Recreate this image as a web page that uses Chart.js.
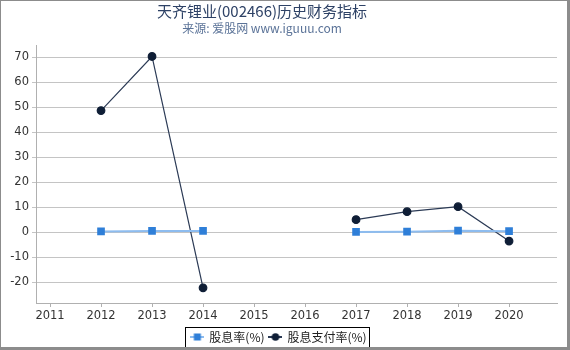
<!DOCTYPE html>
<html>
<head>
<meta charset="utf-8">
<script src="https://cdn.jsdelivr.net/npm/chart.js@4.4.1/dist/chart.umd.min.js"></script>
<style>
body { margin: 0; background: #fff; }
#wrap {
    width: 570px; height: 350px; box-sizing: border-box; overflow: hidden;
    border-left: 1px solid #8c8c8c; border-top: 1px solid #8c8c8c;
    border-right: 3px solid #8c8c8c; border-bottom: 3px solid #8c8c8c;
}
canvas { display: block; }
</style>
</head>
<body>
<div id="wrap"><canvas id="grafik" width="566" height="352"></canvas></div>
<script>
const years = [2012, 2013, 2014, 2015, 2016, 2017, 2018, 2019, 2020];
const dividendYield = [0.3, 0.5, 0.5, null, null, 0.1, 0.2, 0.6, 0.4];
const payoutRatio = [48.7, 70.4, -22.3, null, null, 5.0, 8.2, 10.2, -3.6];
const xTicks = [2011, 2012, 2013, 2014, 2015, 2016, 2017, 2018, 2019, 2020];
const yTicks = [-20, -10, 0, 10, 20, 30, 40, 50, 60, 70];
const titleText = '天齐锂业(002466)历史财务指标';
const subtitleText = '来源: 爱股网 www.iguuu.com';

const FONT = "'DejaVu Sans', 'Noto Sans CJK SC', sans-serif";
const CJK = "'Noto Sans CJK SC', 'DejaVu Sans', sans-serif";

// little legend markers: a line with the point on it
function marker(lineColor, fill, shape) {
    const c = document.createElement('canvas');
    c.width = 14; c.height = 10;
    const ctx = c.getContext('2d');
    ctx.strokeStyle = lineColor;
    ctx.lineWidth = 2;
    ctx.beginPath(); ctx.moveTo(0, 5); ctx.lineTo(14, 5); ctx.stroke();
    ctx.fillStyle = fill;
    if (shape === 'rect') {
        ctx.fillRect(3.5, 1.5, 7, 7);
    } else {
        ctx.beginPath(); ctx.arc(7, 5, 3.8, 0, Math.PI * 2); ctx.fill();
    }
    return c;
}

// title sits a bit left of centre in the original, so draw it by hand
const headline = {
    id: 'headline',
    afterDraw(chart) {
        const ctx = chart.ctx;
        ctx.save();
        ctx.textAlign = 'center';
        ctx.textBaseline = 'middle';
        ctx.fillStyle = '#2e4266';
        ctx.font = "15px " + CJK;
        ctx.fillText(titleText, 261, 10.5);
        ctx.fillStyle = '#5b7398';
        ctx.font = "12px " + CJK;
        ctx.fillText(subtitleText, 261, 27.3);
        ctx.restore();
    }
};

// black frame round the legend
const legendBox = {
    id: 'legendBox',
    afterDraw(chart) {
        const boxes = chart.legend.legendHitBoxes;
        if (!boxes || !boxes.length) return;
        const left = Math.min(...boxes.map(b => b.left)) - 6;
        const right = Math.max(...boxes.map(b => b.left + b.width)) + 3;
        const top = boxes[0].top - 4;
        const ctx = chart.ctx;
        ctx.save();
        ctx.strokeStyle = '#000';
        ctx.lineWidth = 1;
        ctx.strokeRect(Math.round(left) + 0.5, Math.round(top) + 0.5, Math.round(right - left), 30);
        ctx.restore();
    }
};

const data = {
    datasets: [{
        label: '股息率(%)',
        data: years.map((y, i) => ({ x: y, y: dividendYield[i] })),
        borderColor: '#8dbcef',
        backgroundColor: '#2f7fd8',
        pointBackgroundColor: '#2f7fd8',
        pointBorderColor: '#2f7fd8',
        pointStyle: 'rect',
        pointRadius: 4,
        borderWidth: 2,
        spanGaps: false,
        legendMarker: marker('#8dbcef', '#2f7fd8', 'rect')
    }, {
        label: '股息支付率(%)',
        data: years.map((y, i) => ({ x: y, y: payoutRatio[i] })),
        borderColor: '#2b3a55',
        backgroundColor: '#0f1e36',
        pointBackgroundColor: '#0f1e36',
        pointBorderColor: '#0f1e36',
        pointStyle: 'circle',
        pointRadius: 3.8,
        borderWidth: 1.2,
        spanGaps: false,
        legendMarker: marker('#2b3a55', '#0f1e36', 'circle')
    }]
};

const options = {
    responsive: false,
    animation: false,
    layout: { padding: { left: 0, right: 10, top: 44, bottom: 0 } },
    scales: {
        x: {
            type: 'linear',
            min: 2010.725,
            max: 2020.94,
            afterBuildTicks: axis => { axis.ticks = xTicks.map(v => ({ value: v })); },
            afterFit: axis => { axis.height = 23; },
            grid: { display: true, drawOnChartArea: false, drawTicks: true, tickLength: 4, color: '#b0b0b0' },
            border: { color: '#b0b0b0' },
            ticks: { color: '#333', font: { family: FONT, size: 11.5 }, padding: 2, maxRotation: 0, callback: v => String(v) }
        },
        y: {
            min: -28.4,
            max: 75,
            afterBuildTicks: axis => { axis.ticks = yTicks.map(v => ({ value: v })); },
            afterFit: axis => { axis.width = 35; },
            grid: { color: '#c4c4c4', drawTicks: true, tickLength: 4 },
            border: { color: '#b0b0b0' },
            ticks: { color: '#333', font: { family: FONT, size: 11.5 }, padding: 3 }
        }
    },
    plugins: {
        legend: {
            position: 'bottom',
            labels: {
                usePointStyle: true,
                pointStyleWidth: 12,
                padding: 5,
                color: '#222',
                font: { family: CJK, size: 12 },
                generateLabels: chart => chart.data.datasets.map((ds, i) => ({
                    text: ds.label,
                    pointStyle: ds.legendMarker,
                    fillStyle: ds.backgroundColor,
                    strokeStyle: ds.borderColor,
                    lineWidth: 0,
                    fontColor: '#222',
                    hidden: !chart.isDatasetVisible(i),
                    datasetIndex: i
                }))
            }
        },
        tooltip: { enabled: false }
    }
};

new Chart(document.getElementById('grafik'), {
    type: 'line',
    data: data,
    options: options,
    plugins: [legendBox, headline]
});
</script>
</body>
</html>
